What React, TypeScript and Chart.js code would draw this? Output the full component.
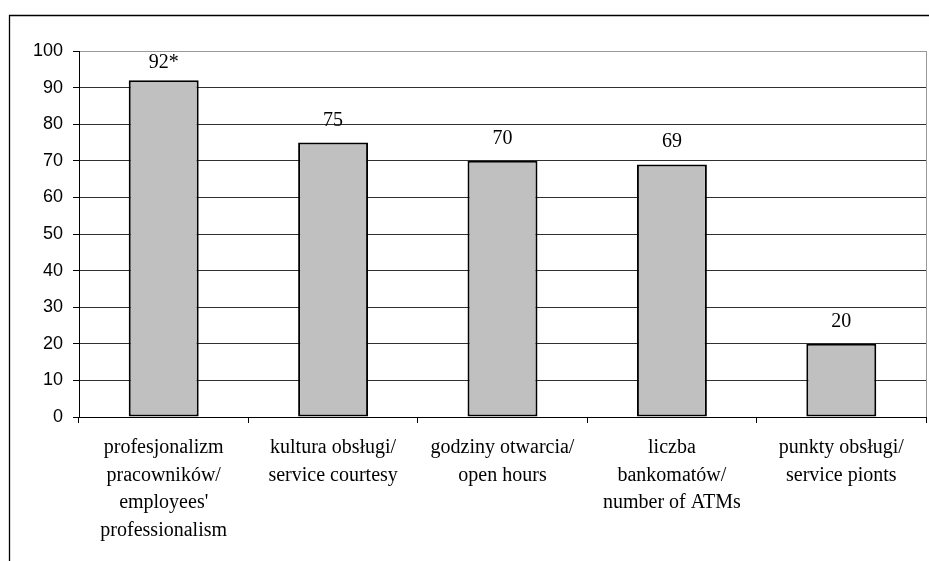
import React, { useEffect, useRef } from "react";
import { Chart, registerables } from "chart.js";

Chart.register(...registerables);

const categories: string[][] = [
  ["profesjonalizm", "pracowników/", "employees'", "professionalism"],
  ["kultura obsługi/", "service courtesy"],
  ["godziny otwarcia/", "open hours"],
  ["liczba", "bankomatów/", "number of ATMs"],
  ["punkty obsługi/", "service pionts"],
];
const values: number[] = [92, 75, 70, 69, 20];
const valueLabels: string[] = ["92*", "75", "70", "69", "20"];
const yTicks = { min: 0, max: 100, step: 10 };

const framePlugin = {
  id: "frame",
  beforeDraw(chart: any) {
    const ctx = chart.ctx;
    ctx.save();
    ctx.fillStyle = "#ffffff";
    ctx.fillRect(0, 0, chart.width, chart.height);
    ctx.strokeStyle = "#000000";
    ctx.lineWidth = 1.3;
    ctx.beginPath();
    ctx.moveTo(chart.width, 15.5);
    ctx.lineTo(9.5, 15.5);
    ctx.lineTo(9.5, chart.height);
    ctx.stroke();
    ctx.restore();
  },
  afterDraw(chart: any) {
    const ctx = chart.ctx;
    const a = chart.chartArea;
    ctx.save();
    ctx.strokeStyle = "#999999";
    ctx.lineWidth = 1;
    ctx.beginPath();
    ctx.moveTo(Math.round(a.right) + 0.5, a.top);
    ctx.lineTo(Math.round(a.right) + 0.5, a.bottom);
    ctx.stroke();
    ctx.restore();
  },
};

const valueLabelPlugin = {
  id: "valueLabels",
  afterDatasetsDraw(chart: any) {
    const ctx = chart.ctx;
    const meta = chart.getDatasetMeta(0);
    const top = chart.chartArea.top;
    ctx.save();
    ctx.font = "20px 'Liberation Serif', 'Times New Roman', serif";
    ctx.fillStyle = "#000000";
    ctx.textAlign = "center";
    ctx.textBaseline = "alphabetic";
    meta.data.forEach((bar: any, i: number) => {
      const baseline = Math.max(bar.y - 17, top + 17);
      ctx.fillText(valueLabels[i], bar.x, baseline);
    });
    ctx.restore();
  },
};

export default function App() {
  const ref = useRef<HTMLCanvasElement | null>(null);
  useEffect(() => {
    if (!ref.current) return;
    const chart = new Chart(ref.current, {
      type: "bar",
      data: {
        labels: categories,
        datasets: [
          {
            data: values,
            backgroundColor: "#c0c0c0",
            borderColor: "#000000",
            borderWidth: 2,
            borderSkipped: false,
            barPercentage: 0.413,
            categoryPercentage: 1,
          },
        ],
      },
      options: {
        animation: false,
        responsive: false,
        layout: { padding: { top: 51, right: 3, left: 0, bottom: 0 } },
        plugins: { legend: { display: false }, tooltip: { enabled: false } },
        scales: {
          x: {
            afterFit(scale: any) {
              scale.height = 144;
            },
            grid: {
              display: true,
              drawOnChartArea: false,
              drawTicks: true,
              tickLength: 6,
              tickColor: "#000000",
              offset: true,
            },
            border: { display: true, color: "#000000", width: 1 },
            ticks: {
              color: "#000000",
              padding: 11,
              maxRotation: 0,
              autoSkip: false,
              font: { family: "'Liberation Serif', 'Times New Roman', serif", size: 20, lineHeight: 1.375 },
            },
          },
          y: {
            min: yTicks.min,
            max: yTicks.max,
            afterFit(scale: any) {
              scale.width = 79;
            },
            grid: {
              color: (c: any) => (c.tick && c.tick.value === yTicks.max ? "#999999" : "#303030"),
              tickColor: "#000000",
              tickLength: 6,
              lineWidth: 1,
            },
            border: { display: true, color: "#000000", width: 1 },
            ticks: {
              stepSize: yTicks.step,
              color: "#000000",
              padding: 10,
              font: { family: "'Liberation Sans', Arial, sans-serif", size: 18 },
            },
          },
        },
      },
      plugins: [framePlugin, valueLabelPlugin],
    });
    return () => chart.destroy();
  }, []);
  return (
    <div style={{ position: "absolute", left: 0, top: 0, width: 929, height: 561 }}>
      <canvas ref={ref} width={929} height={561} />
    </div>
  );
}
